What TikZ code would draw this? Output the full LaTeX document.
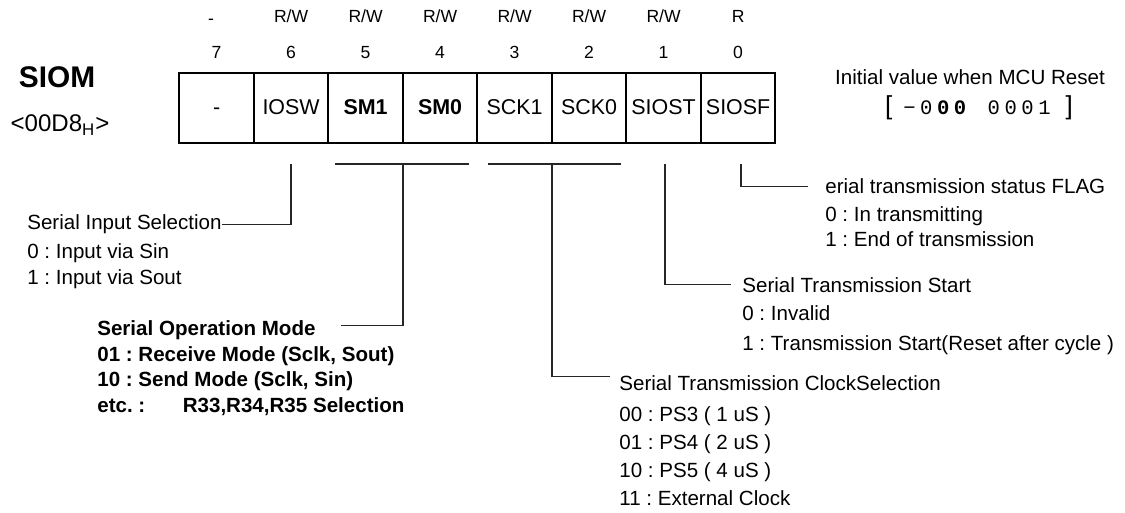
\documentclass[tikz,border=0pt]{standalone}
\usepackage{fontspec}
\setmainfont{Liberation Sans}
\newfontfamily\regmono[LetterSpace=22]{Liberation Mono}
\usetikzlibrary{positioning}
\newcommand{\fs}[2]{\fontsize{#1}{#2}\selectfont}
\frenchspacing

\begin{document}
\begin{tikzpicture}[x=0.02cm, y=-0.02cm,
  bit/.style={draw, line width=1.1pt, minimum width=1.49cm, minimum height=1.4cm,
    inner sep=0pt, outer sep=0pt, text height=0.72em, text depth=0pt, font=\fs{12.2}{14}},
  bitb/.style={bit, font=\fs{12.2}{14}\bfseries},
  acc/.style={anchor=base, inner sep=0pt, font=\fs{10}{11}},
  d/.style={anchor=base west, inner sep=0pt, font=\fs{11.7}{14.8}},
  di/.style={anchor=north west, align=left, inner sep=0pt, font=\fs{11.7}{14.8}},
  br/.style={line width=0.75pt, black!85}]
\useasboundingbox (0,0) rectangle (1125,513);
% register cells
\node[bit] (b7) at (216.6,108) {-};
\node[bit] (b6) at (291.1,108) {IOSW};
\node[bitb] (b5) at (365.6,108) {SM1};
\node[bitb] (b4) at (440.1,108) {SM0};
\node[bit] (b3) at (514.6,108) {SCK1};
\node[bit] (b2) at (589.1,108) {SCK0};
\node[bit] (b1) at (663.6,108) {SIOST};
\node[bit] (b0) at (738.1,108) {SIOSF};
% access and bit numbers
\node[acc] (a7) at (211,25) {-};
\node[acc] (a6) at (291.1,23) {R/W};
\node[acc] (a5) at (365.6,23) {R/W};
\node[acc] (a4) at (440.1,23) {R/W};
\node[acc] (a3) at (514.6,23) {R/W};
\node[acc] (a2) at (589.1,23) {R/W};
\node[acc] (a1) at (663.6,23) {R/W};
\node[acc] (a0) at (738.1,23) {R};
\node[acc] (n7) at (216.6,59) {7};
\node[acc] (n6) at (291.1,59) {6};
\node[acc] (n5) at (365.6,59) {5};
\node[acc] (n4) at (440.1,59) {4};
\node[acc] (n3) at (514.6,59) {3};
\node[acc] (n2) at (589.1,59) {2};
\node[acc] (n1) at (663.6,59) {1};
\node[acc] (n0) at (738.1,59) {0};
% name, address, reset value
\node[font=\fs{17}{19}\bfseries] (reg) at (57,77) {SIOM};
\node[font=\fs{13.7}{15}] (adr) at (60,125) {<00D8\textsubscript{H}>};
\node[font=\fs{11.7}{13}] (iv) at (970,77) {Initial value when MCU Reset};
\node[font=\fs{11.7}{13}] (rv) at (979,108)
  {{\fs{14.8}{15}[}\hspace{0.22cm}{\regmono −0\textbf{00} 0001}\hspace{0.3cm}{\fs{14.8}{15}]}};
% descriptions
\node[d] (tin) at (27,230) {Serial Input Selection};
\node[di] (lin) at (27,243) {0 : Input via Sin\\1 : Input via Sout};
\node[d, font=\fs{11.7}{14.5}\bfseries] (tom) at (97,335) {Serial Operation Mode};
\node[di, font=\fs{11.7}{14.5}\bfseries] (lom) at (97,346)
  {01 : Receive Mode (Sclk, Sout)\\10 : Send Mode (Sclk, Sin)\\etc. :\hspace{0.75cm}R33,R34,R35 Selection};
\node[d] (tck) at (619,390) {Serial Transmission ClockSelection};
\node[di, font=\fs{11.7}{15.9}] (lck) at (619,406)
  {00 : PS3 ( 1 uS )\\01 : PS4 ( 2 uS )\\10 : PS5 ( 4 uS )\\11 : External Clock};
\node[d] (tst) at (742,292) {Serial Transmission Start};
\node[di, font=\fs{11.7}{17.1}] (lst) at (742,305) {0 : Invalid\\1 : Transmission Start(Reset after cycle )};
\node[d] (tsf) at (825,194) {erial transmission status FLAG};
\node[di, font=\fs{11.7}{14.2}] (lsf) at (825,206) {0 : In transmitting\\1 : End of transmission};
% brackets
\coordinate (k6) at (291,164);
\coordinate (s5) at (335,164); \coordinate (s4) at (469,164); \coordinate (k54) at (403,164);
\coordinate (s3) at (488,164); \coordinate (s2) at (621,164); \coordinate (k32) at (552,164);
\coordinate (k1) at (665,164);
\coordinate (k0) at (741,164);
\draw[br] (s5) -- (s4); \draw[br] (s3) -- (s2);
\draw[br] (k6) |- (tin.east);
\draw[br] (k54) |- ([xshift=0.5cm, yshift=0.08cm]tom.east);
\draw[br] (k32) |- ([xshift=-0.18cm, yshift=0.12cm]tck.west);
\draw[br] (k1) |- ([xshift=-0.22cm]tst.west);
\draw[br] (k0) |- ([xshift=-0.34cm]tsf.west);
\end{tikzpicture}
\end{document}
